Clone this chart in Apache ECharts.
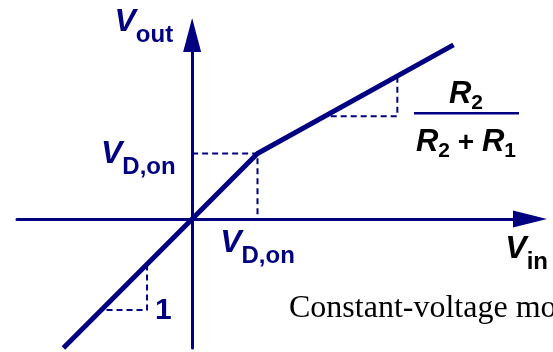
<!DOCTYPE html>
<html>
<head>
<meta charset="utf-8">
<script src="https://cdn.jsdelivr.net/npm/echarts@6/dist/echarts.min.js"></script>
<style>
  html, body { margin: 0; padding: 0; background: #fff; }
  #chart { width: 553px; height: 352px; }
</style>
</head>
<body>
<div id="chart"></div>
<script>
// Diode transfer characteristic, normalised so that V_D,on = 1.
const vin  = [-1.97, 0, 1, 4.0];
const vout = [-1.97, 0, 1, 2.66];

// Dashed guides from V_D,on on each axis to the knee
const kneeGuideX = [0, 1, 1];
const kneeGuideY = [1, 1, 0];

// Slope triangles: R2/(R2+R1) above the knee, 1 below it
const upperSlopeX = [2.12, 3.14, 3.14];
const upperSlopeY = [1.57, 1.57, 2.17];
const lowerSlopeX = [-1.31, -0.69, -0.69];
const lowerSlopeY = [-1.39, -1.39, -0.70];

// The only labelled value on either axis
const vdOn = 1;
const vdOnLabel = '{v|V}{s|D,on}';

// Axis extents (arrow heads sit beyond these ends)
const xRange = [-2.68, 5.17];
const yRange = [-1.97, 2.81];

const NAVY = '#000080';
const SANS = 'Liberation Sans';

function symbolRich(padTop) {
  return {
    v: { fontFamily: SANS, fontStyle: 'italic', fontWeight: 'bold', fontSize: 32, lineHeight: 32,
         padding: [padTop, 0, 9, 0], verticalAlign: 'bottom', color: NAVY },
    s: { fontFamily: SANS, fontWeight: 'bold', fontSize: 24, lineHeight: 24,
         verticalAlign: 'bottom', color: NAVY }
  };
}

const fracRich = {
  r: { fontFamily: SANS, fontStyle: 'italic', fontWeight: 'bold', fontSize: 31, lineHeight: 31,
       padding: [0, 0, 4, 0], verticalAlign: 'bottom', color: NAVY },
  p: { fontFamily: SANS, fontWeight: 'bold', fontSize: 28, lineHeight: 31,
       padding: [0, 0, 4, 0], verticalAlign: 'bottom', color: NAVY },
  s: { fontFamily: SANS, fontWeight: 'bold', fontSize: 21, lineHeight: 21,
       verticalAlign: 'bottom', color: NAVY }
};

const pairs = (xs, ys) => xs.map((x, i) => [x, ys[i]]);

function dashedGuide(name, xs, ys) {
  return {
    type: 'line', name, data: pairs(xs, ys),
    symbol: 'none', showSymbol: false, clip: false, silent: true, z: 2,
    lineStyle: { color: NAVY, width: 2, type: [6, 4] }
  };
}

// Invisible anchor carrying a text label at a data position
function tickLabel(name, point, position, distance, offset, padTop) {
  return {
    type: 'scatter', name, data: [point], symbolSize: 1, clip: false, silent: true, z: 4,
    itemStyle: { color: 'rgba(0,0,0,0)', opacity: 1 },
    label: { show: true, position, distance, offset, formatter: () => vdOnLabel, rich: symbolRich(padTop) }
  };
}

const chart = echarts.init(document.getElementById('chart'), null, { renderer: 'canvas' });

chart.setOption({
  animation: false,
  backgroundColor: '#fff',
  grid: { left: 17, right: 23, top: 35, bottom: 4, containLabel: false, outerBoundsMode: 'none' },
  xAxis: {
    type: 'value', min: xRange[0], max: xRange[1],
    splitLine: { show: false }, axisTick: { show: false }, axisLabel: { show: false },
    axisLine: { onZero: true, symbol: ['none', 'triangle'], symbolSize: [17, 34],
                lineStyle: { color: NAVY, width: 3 } }
  },
  yAxis: {
    type: 'value', min: yRange[0], max: yRange[1],
    splitLine: { show: false }, axisTick: { show: false }, axisLabel: { show: false },
    axisLine: { onZero: true, symbol: ['none', 'triangle'], symbolSize: [18, 34],
                lineStyle: { color: NAVY, width: 3 } },
    name: '{v|V}{s|out}', nameLocation: 'end', nameGap: 3.6, nameMoveOverlap: false,
    nameTextStyle: { align: 'right', verticalAlign: 'middle', padding: [0, 19, 0, 0], rich: symbolRich(6) }
  },
  series: [
    dashedGuide('knee', kneeGuideX, kneeGuideY),
    dashedGuide('upper slope', upperSlopeX, upperSlopeY),
    dashedGuide('lower slope', lowerSlopeX, lowerSlopeY),
    {
      type: 'line', name: 'Vout', data: pairs(vin, vout),
      symbol: 'none', showSymbol: false, clip: false, silent: true, z: 3,
      lineStyle: { color: NAVY, width: 5 }
    },
    tickLabel('VD,on (input)', [vdOn, 0], 'bottom', 5, [0, 12], 0),
    tickLabel('VD,on (output)', [0, vdOn], 'left', 16, [0, 10], 6)
  ],
  graphic: [
    // x-axis title below the arrow head
    { type: 'text', silent: true,
      style: { text: '{v|V}{s|in}', rich: symbolRich(0), x: 548, y: 258,
               align: 'right', textAlign: 'right', verticalAlign: 'middle', textVerticalAlign: 'middle' } },
    // slope of the upper segment
    { type: 'text', silent: true,
      style: { text: '{r|R}{s|2}', rich: fracRich, x: 466, y: 98,
               align: 'center', textAlign: 'center', verticalAlign: 'middle', textVerticalAlign: 'middle' } },
    { type: 'rect', silent: true, shape: { x: 414, y: 112, width: 105, height: 2.5 }, style: { fill: NAVY } },
    { type: 'text', silent: true,
      style: { text: '{r|R}{s|2}{p| + }{r|R}{s|1}', rich: fracRich, x: 466, y: 146,
               align: 'center', textAlign: 'center', verticalAlign: 'middle', textVerticalAlign: 'middle' } },
    // slope of the lower segment
    { type: 'text', silent: true,
      style: { text: '1', x: 155, y: 311, fill: NAVY, font: 'bold 30px "Liberation Sans"',
               align: 'left', textAlign: 'left', verticalAlign: 'middle', textVerticalAlign: 'middle' } },
    { type: 'text', silent: true,
      style: { text: 'Constant-voltage model', x: 289, y: 309, fill: '#000', font: '32px "Liberation Serif"',
               align: 'left', textAlign: 'left', verticalAlign: 'middle', textVerticalAlign: 'middle' } }
  ]
});
</script>
</body>
</html>
